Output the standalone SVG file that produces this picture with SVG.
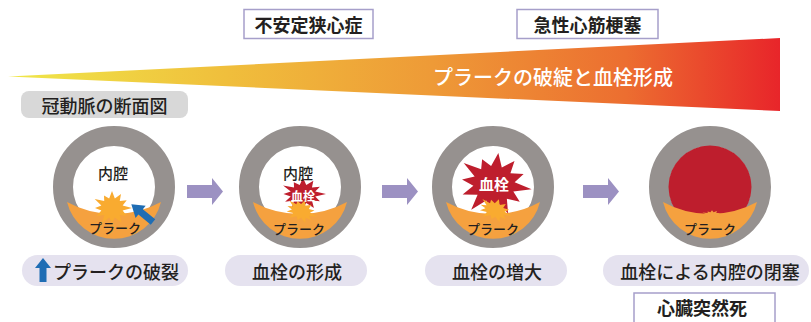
<svg xmlns="http://www.w3.org/2000/svg" xmlns:xlink="http://www.w3.org/1999/xlink" width="811" height="322" viewBox="0 0 811 322">
  <style>
    text { font-family: "Noto Sans CJK JP", "Noto Sans", sans-serif; fill: #231f20; }
    .box { fill: #ffffff; stroke: #a69fca; stroke-width: 1.5; }
    .boxtxt { font-size: 18px; font-weight: 700; text-anchor: middle; dominant-baseline: central; }
    .pill { fill: #e5e2ef; }
    .pilltxt { font-size: 18px; font-weight: 500; text-anchor: middle; dominant-baseline: central; }
    .ring { fill: #ffffff; stroke: #96918f; stroke-width: 20; }
    .plaque { fill: #f5a13f; }
    .burst-o { fill: #f9ab30; }
    .burst-r { fill: #be1e2d; }
    .lumen { font-size: 15px; font-weight: 500; text-anchor: middle; dominant-baseline: central; }
    .plq { font-size: 13px; font-weight: 500; text-anchor: middle; dominant-baseline: central; }
    .clot { fill: #ffffff; font-weight: 700; text-anchor: middle; dominant-baseline: central; }
    .step { fill: #9c91c2; }
  </style>
  <defs>
    <linearGradient id="trend" gradientUnits="userSpaceOnUse" x1="8" y1="0" x2="780" y2="0">
      <stop offset="0" stop-color="#efe74a"/>
      <stop offset="0.28" stop-color="#f0bf3c"/>
      <stop offset="0.55" stop-color="#ee9a37"/>
      <stop offset="0.8" stop-color="#ec6e30"/>
      <stop offset="1" stop-color="#e8252a"/>
    </linearGradient>
    <!-- starburst, radius 100 -->
    <path id="burst" d="M100,0 L53.1,14.2 L73.6,42.5 L38.9,38.9 L47.5,82.3 L14.2,53.1 L0,80 L-14.2,53.1 L-50,86.6 L-38.9,38.9 L-77.9,45 L-53.1,14.2 L-85,0 L-53.1,-14.2 L-86.6,-50 L-38.9,-38.9 L-40,-69.3 L-14.2,-53.1 L0,-95 L14.2,-53.1 L45,-77.9 L38.9,-38.9 L73.6,-42.5 L53.1,-14.2 Z"/>
    <!-- plaque crescent for a vessel centred at 0,0 -->
    <path id="crescent" d="M-47,15 A48.4,48.4 0 0 0 47,15 A98,98 0 0 1 -47,15 Z"/>
    <path id="step-arrow" d="M0,-6.5 H25 V-13.5 L36,0 L25,13.5 V6.5 H0 Z"/>
  </defs>

  <!-- progression wedge -->
  <g id="trend-wedge">
    <polygon points="8,76.5 780,38 780,111" fill="url(#trend)"/>
    <text x="433" y="76" font-size="20" font-weight="500" dominant-baseline="central" style="fill:#ffffff">プラークの破綻と血栓形成</text>
  </g>

  <g id="label-unstable-angina">
    <rect class="box" x="244" y="9.5" width="129" height="29"/>
    <text class="boxtxt" x="308.5" y="24">不安定狭心症</text>
  </g>
  <g id="label-ami">
    <rect class="box" x="517" y="9.5" width="141" height="29"/>
    <text class="boxtxt" x="587.5" y="24">急性心筋梗塞</text>
  </g>

  <g id="label-section">
    <rect x="21" y="91" width="167" height="27" rx="8" fill="#d8d8d8"/>
    <text class="pilltxt" x="104.5" y="104.5">冠動脈の断面図</text>
  </g>

  <!-- stage 1: plaque rupture -->
  <g id="stage-rupture">
    <circle class="ring" cx="114" cy="187" r="51"/>
    <use href="#crescent" class="plaque" transform="translate(114,187)"/>
    <use href="#burst" class="burst-o" transform="translate(112,208) scale(0.2,0.18)"/>
    <g transform="translate(153,222) rotate(-140.7)" fill="#1f6db4">
      <polygon points="0,-3.5 16,-3.5 16,-8 28,0 16,8 16,3.5 0,3.5"/>
    </g>
    <text class="lumen" x="113" y="172">内腔</text>
    <text class="plq" x="115" y="227">プラーク</text>
  </g>

  <!-- stage 2: thrombus formation -->
  <g id="stage-formation">
    <circle class="ring" cx="300" cy="187" r="51"/>
    <use href="#crescent" class="plaque" transform="translate(300,187)"/>
    <use href="#burst" class="burst-r" transform="translate(303,194) scale(0.23,0.17)"/>
    <use href="#burst" class="burst-o" transform="translate(301,211) rotate(20) scale(0.17,0.12)"/>
    <text class="lumen" x="298" y="172">内腔</text>
    <text class="clot" x="303" y="195" font-size="12">血栓</text>
    <text class="plq" x="299" y="228">プラーク</text>
  </g>

  <!-- stage 3: thrombus growth -->
  <g id="stage-growth">
    <circle class="ring" cx="493" cy="187" r="51"/>
    <use href="#crescent" class="plaque" transform="translate(493,187)"/>
    <use href="#burst" class="burst-r" transform="translate(494,184) rotate(8) scale(0.38,0.33)"/>
    <use href="#burst" class="burst-o" transform="translate(495,210) rotate(20) scale(0.18,0.12)"/>
    <text class="clot" x="494" y="183" font-size="15">血栓</text>
    <text class="plq" x="493" y="228">プラーク</text>
  </g>

  <!-- stage 4: lumen occlusion -->
  <g id="stage-occlusion">
    <circle class="ring" cx="710" cy="187" r="51"/>
    <circle cx="710" cy="187" r="41.5" fill="#be1e2d"/>
    <use href="#crescent" class="plaque" transform="translate(710,187)"/>
    <use href="#burst" class="plaque" transform="translate(712,215) scale(0.11,0.05)"/>
    <text class="plq" x="710" y="228">プラーク</text>
  </g>

  <!-- step arrows -->
  <g id="connectors">
    <use href="#step-arrow" class="step" transform="translate(187,191.5)"/>
    <use href="#step-arrow" class="step" transform="translate(382,191.5)"/>
    <use href="#step-arrow" class="step" transform="translate(583,191.5)"/>
  </g>

  <g id="caption-rupture">
    <rect class="pill" x="22" y="255" width="166" height="31" rx="15.5"/>
    <polygon points="35,268 43,258 51,268 46.5,268 46.5,282 39.5,282 39.5,268" fill="#1f6db4"/>
    <text class="pilltxt" x="116" y="270.5">プラークの破裂</text>
  </g>
  <g id="caption-formation">
    <rect class="pill" x="225" y="255" width="142" height="31" rx="15.5"/>
    <text class="pilltxt" x="297" y="270.5">血栓の形成</text>
  </g>
  <g id="caption-growth">
    <rect class="pill" x="425" y="255" width="142" height="31" rx="15.5"/>
    <text class="pilltxt" x="497" y="270.5">血栓の増大</text>
  </g>
  <g id="caption-occlusion">
    <rect class="pill" x="603" y="255" width="206" height="31" rx="15.5"/>
    <text class="pilltxt" x="710" y="270.5">血栓による内腔の閉塞</text>
  </g>

  <g id="label-scd">
    <rect class="box" x="634" y="293" width="141" height="34"/>
    <text class="boxtxt" x="702" y="307">心臓突然死</text>
  </g>
</svg>
